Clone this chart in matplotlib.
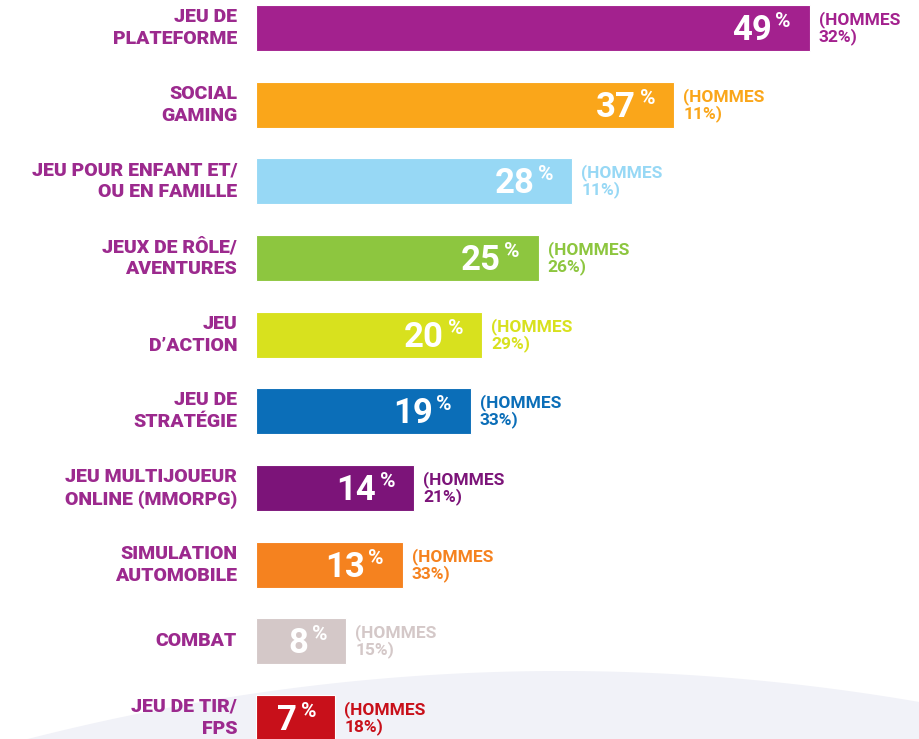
import numpy as np
import matplotlib
matplotlib.use('Agg')
import matplotlib.pyplot as plt
from matplotlib.patches import Polygon

categories = ['JEU DE\nPLATEFORME', 'SOCIAL\nGAMING', 'JEU POUR ENFANT ET/\nOU EN FAMILLE',
              'JEUX DE RÔLE/\nAVENTURES', 'JEU\nD\u2019ACTION', 'JEU DE\nSTRATÉGIE',
              'JEU MULTIJOUEUR\nONLINE (MMORPG)', 'SIMULATION\nAUTOMOBILE', 'COMBAT', 'JEU DE TIR/\nFPS']
femmes = [49, 37, 28, 25, 20, 19, 14, 13, 8, 7]
hommes = [32, 11, 11, 26, 29, 33, 21, 33, 15, 18]
colors = ['#a3218e', '#faa61a', '#97d8f5', '#8dc63f', '#d8e11e',
          '#0b6eb8', '#7c1479', '#f5821f', '#d4c8c8', '#c8101a']
label_color = '#9c2a8e'

plt.rcParams['font.family'] = ['Roboto', 'DejaVu Sans']

fig = plt.figure(figsize=(9.19, 7.39), dpi=100)
ax = fig.add_axes([0, 0, 1, 1])
ax.patch.set_visible(False)

# pixel layout: bars start at x=256 px, 11.3 px per %, rows every 76.7 px
px_per = 11.3
ax.set_xlim(-256 / px_per, (919 - 256) / px_per)
row = 76.67
ax.set_ylim((739 - 28) / row, -28 / row)
ax.axis('off')

# light background swoosh at the bottom
xs = np.linspace(0, 919, 200)
ys = 671 + 2.4e-4 * (xs - 560) ** 2
pts = [(x, 739 - y) for x, y in zip(xs, ys)] + [(919, -5), (0, -5)]
ax.add_patch(Polygon(pts, closed=True, transform=None, facecolor='#f1f2f8',
                     edgecolor='none', zorder=0))

y = np.arange(len(categories))
ax.barh(y, femmes, height=46 / row, color=colors, edgecolor='white', linewidth=0.8, zorder=2)

for i, (v, h, c, lab) in enumerate(zip(femmes, hommes, colors, categories)):
    ax.text(-19 / px_per, i, lab, ha='right', va='center', color=label_color,
            fontsize=14, fontweight='black', linespacing=1.3, zorder=3)
    ax.annotate('%', (v, i), xytext=(-19, 1), textcoords='offset pixels',
                ha='right', va='baseline', color='white', fontsize=15, fontweight='bold', zorder=3)
    ax.annotate(str(v), (v, i), xytext=(-38, -12), textcoords='offset pixels',
                ha='right', va='baseline', color='white', fontsize=25, fontweight='bold', zorder=3)
    ax.annotate('(HOMMES\n%d%%)' % h, (v, i), xytext=(9, 0), textcoords='offset pixels',
                ha='left', va='center', color=c, fontsize=12.5, fontweight='bold',
                linespacing=1.0, zorder=3)

fig.savefig('out.png', dpi=100)
